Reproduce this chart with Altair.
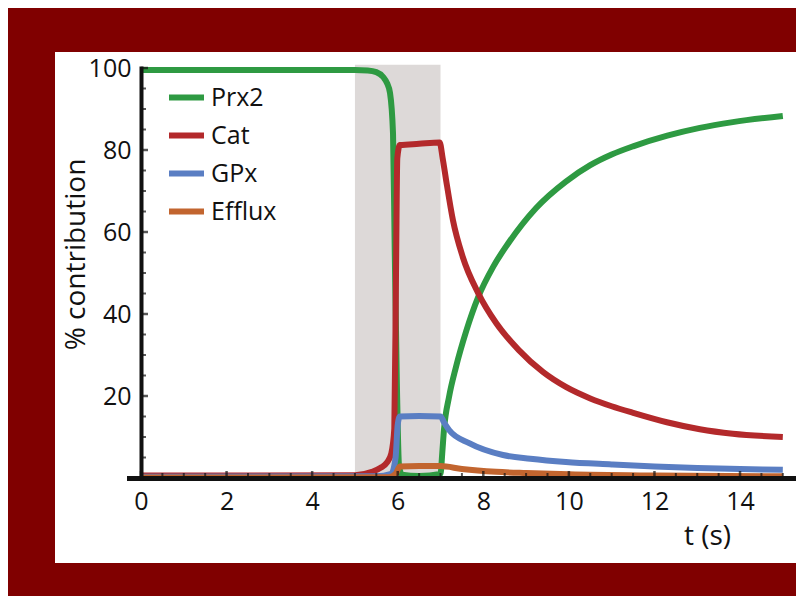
import altair as alt
import pandas as pd

# ---------------- data ----------------
series_names = ["Prx2", "Cat", "GPx", "Efflux"]
series_colors = ["#2e9a42", "#b3292b", "#5a7ec3", "#c2652f"]

prx2_t = [0, 5.0, 5.3, 5.5, 5.66, 5.75, 5.82, 5.89, 5.93, 5.98, 6.03, 6.1, 6.5, 7.0,
          7.04, 7.08, 7.2, 7.36, 7.6, 7.88, 8.23, 8.6, 9.23, 9.93, 10.5, 11.0, 11.5,
          12.3, 13.06, 13.83, 15.0]
prx2_v = [99.5, 99.5, 99.4, 99.0, 97.8, 96.3, 93.9, 84.0, 55.6, 23.0, 3.0, 0.8, 0.5, 1.0,
          6.0, 11.7, 19.8, 27.0, 35.8, 44.1, 51.5, 57.5, 65.8, 72.3, 76.3, 78.9, 80.9,
          83.5, 85.4, 86.8, 88.3]

cat_t = [0, 5.0, 5.4, 5.6, 5.75, 5.85, 5.92, 5.96, 5.99, 6.05, 6.5, 6.98, 7.05, 7.13,
         7.29, 7.52, 7.88, 8.3, 8.83, 9.4, 9.93, 10.5, 11.0, 11.5, 12.29, 13.06, 13.83,
         15.0]
cat_v = [0.6, 0.7, 1.5, 2.5, 3.8, 6.0, 12.0, 50.0, 78.0, 81.2, 81.5, 81.8, 78.0, 72.7,
         62.9, 53.9, 45.1, 37.8, 31.2, 25.8, 22.2, 19.4, 17.5, 15.9, 13.6, 11.9, 10.8,
         10.0]

gpx_t = [0, 5.5, 5.85, 5.95, 6.0, 6.05, 6.5, 7.0, 7.08, 7.2, 7.67, 8.46, 9.1, 9.93,
         11.0, 12.0, 13.0, 14.0, 15.0]
gpx_v = [0.3, 0.4, 1.0, 5.0, 13.0, 15.0, 15.1, 15.0, 13.6, 11.7, 8.5, 5.6, 4.7, 3.9,
         3.3, 2.8, 2.45, 2.2, 2.0]

efflux_t = [0, 5.8, 5.95, 6.05, 6.5, 7.0, 7.5, 8.3, 9.0, 10.0, 12.0, 15.0]
efflux_v = [0.1, 0.2, 1.0, 2.8, 2.9, 2.9, 2.2, 1.5, 1.2, 0.9, 0.6, 0.4]

shade_start, shade_end, shade_bottom, shade_top = 5, 7, 0, 100.8

x_major = [0, 2, 4, 6, 8, 10, 12, 14]
x_minor = [0.5, 1, 1.5, 2.5, 3, 3.5, 4.5, 5, 5.5, 6.5, 7, 7.5, 8.5, 9, 9.5,
           10.5, 11, 11.5, 12.5, 13, 13.5, 14.5, 15]
y_major = [20, 40, 60, 80, 100]
y_minor = [5, 10, 15, 25, 30, 35, 45, 50, 55, 65, 70, 75, 85, 90, 95]

x_domain = [-0.2805, 15.238]
y_domain = [0, 100]

# ---------------- tables ----------------
frames = []
for name, ts, vs in [("Prx2", prx2_t, prx2_v), ("Cat", cat_t, cat_v),
                     ("GPx", gpx_t, gpx_v), ("Efflux", efflux_t, efflux_v)]:
    frames.append(pd.DataFrame({"t": ts, "v": vs, "series": name}))
lines_df = pd.concat(frames, ignore_index=True)

shade_df = pd.DataFrame({"x": [shade_start], "x2": [shade_end],
                         "y": [shade_bottom], "y2": [shade_top]})
xmaj_df = pd.DataFrame({"t": x_major})
xmin_df = pd.DataFrame({"t": x_minor})
ymaj_df = pd.DataFrame({"v": y_major})
ymin_df = pd.DataFrame({"v": y_minor})

FONT = "Open Sans"
INK = "#111111"
xscale = alt.Scale(domain=x_domain, nice=False, zero=False)
yscale = alt.Scale(domain=y_domain, nice=False, zero=False)

x_axis = alt.Axis(values=x_major, title="t (s)", format="d", ticks=False, tickSize=0,
                  grid=False, domainWidth=5, domainColor=INK, domainCap="square",
                  labelFont=FONT, labelFontSize=25, labelColor=INK, labelPadding=11,
                  labelFlush=False,
                  titleFont=FONT, titleFontSize=28, titleFontWeight="normal",
                  titleColor=INK, titleX=578, titleY=66,
                  titleAlign="center", titleBaseline="alphabetic", zindex=2)
y_axis = alt.Axis(values=y_major, title="% contribution", format="d", ticks=False,
                  tickSize=0, grid=False, offset=-12, domainWidth=4,
                  domainColor=INK, domainCap="square",
                  labelFont=FONT, labelFontSize=25, labelColor=INK, labelPadding=10,
                  labelFlush=False,
                  titleFont=FONT, titleFontSize=28, titleFontWeight="normal",
                  titleColor=INK, titleAngle=-90, titleX=-57, titleY=186,
                  titleAlign="center", titleBaseline="alphabetic", zindex=2)

# white inner panel (decoration, pixel position relative to plot area)
panel = alt.Chart(shade_df).mark_rect(color="white").encode(
    x=alt.value(-74), x2=alt.value(671), y=alt.value(-16), y2=alt.value(495))

shade = alt.Chart(shade_df).mark_rect(color="#ddd9d8").encode(
    x=alt.X("x:Q", scale=xscale, axis=x_axis),
    x2="x2:Q",
    y=alt.Y("y:Q", scale=yscale, axis=y_axis),
    y2="y2:Q")

lines = alt.Chart(lines_df).mark_line(strokeWidth=6, interpolate="monotone").encode(
    x=alt.X("t:Q", scale=xscale),
    y=alt.Y("v:Q", scale=yscale),
    color=alt.Color("series:N",
                    scale=alt.Scale(domain=series_names, range=series_colors),
                    sort=series_names,
                    legend=alt.Legend(title=None, orient="none", legendX=37, legendY=9,
                                      symbolType="stroke", symbolSize=1225,
                                      symbolStrokeWidth=6, labelFont=FONT,
                                      labelFontSize=25, labelColor=INK,
                                      labelOffset=4, rowPadding=4, padding=0)),
    detail="series:N")

xt_major = alt.Chart(xmaj_df).mark_tick(orient="vertical", size=7, thickness=2.5,
                                        color=INK, yOffset=-3.5).encode(
    x=alt.X("t:Q", scale=xscale), y=alt.datum(0, scale=yscale))
xt_minor = alt.Chart(xmin_df).mark_tick(orient="vertical", size=5, thickness=2,
                                        color=INK, yOffset=-2.5).encode(
    x=alt.X("t:Q", scale=xscale), y=alt.datum(0))
yt_major = alt.Chart(ymaj_df).mark_tick(orient="horizontal", size=7, thickness=2.5,
                                        color=INK, xOffset=3.5).encode(
    y=alt.Y("v:Q", scale=yscale), x=alt.datum(0))
yt_minor = alt.Chart(ymin_df).mark_tick(orient="horizontal", size=5, thickness=2,
                                        color=INK, xOffset=2.5).encode(
    y=alt.Y("v:Q", scale=yscale), x=alt.datum(0))

chart = alt.layer(panel, shade, lines, xt_major, xt_minor, yt_major, yt_minor).properties(
    width=664, height=410,
    background="#800000",
    padding={"left": 121, "top": 60, "right": 3, "bottom": 118},
    autosize=alt.AutoSizeParams(type="none"),
).configure_view(stroke=None)

chart.save("out.html", embed_options={"renderer": "svg", "actions": False})
